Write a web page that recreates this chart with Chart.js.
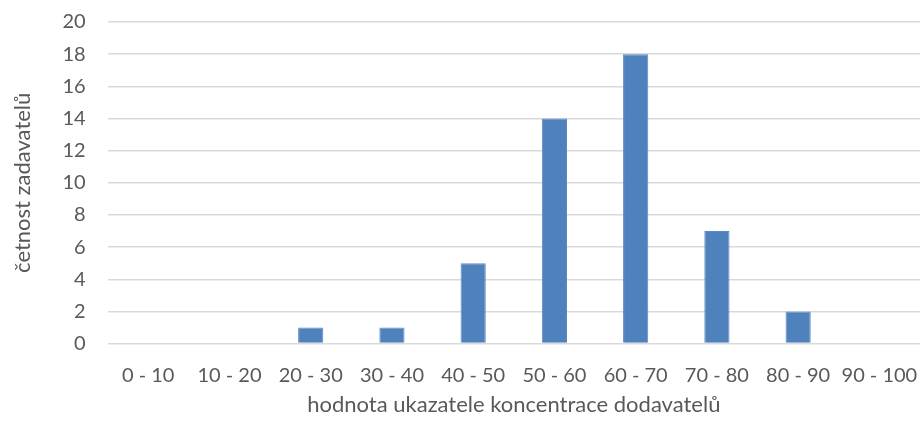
<!DOCTYPE html>
<html>
<head>
<meta charset="utf-8">
<script src="https://cdn.jsdelivr.net/npm/chart.js@4"></script>
<style>
  html, body { margin: 0; padding: 0; background: #fff; }
  #wrap { width: 920px; height: 437px; }
</style>
</head>
<body>
<div id="wrap"><canvas id="myChart" width="920" height="437"></canvas></div>
<script>
// categories and values
const categories = ["0 - 10", "10 - 20", "20 - 30", "30 - 40", "40 - 50", "50 - 60", "60 - 70", "70 - 80", "80 - 90", "90 - 100"];
const counts = [0, 0, 1, 1, 5, 14, 18, 7, 2, 0];
const yTicks = [0, 2, 4, 6, 8, 10, 12, 14, 16, 18, 20];

const ctx = document.getElementById("myChart").getContext("2d");
const textColor = "#595959";
const fontFamily = "Lato, 'Open Sans', sans-serif";

new Chart(ctx, {
    type: "bar",
    data: {
        labels: categories,
        datasets: [
            {
                label: "četnost",
                data: counts,
                backgroundColor: "#4f81bd",
                borderColor: "#5a8ac6",
                borderWidth: 1,
                barPercentage: 0.62,
                categoryPercentage: 0.5
            }
        ]
    },
    options: {
        responsive: false,
        animation: false,
        layout: { padding: { top: 22, right: 0, left: 10, bottom: 19 } },
        plugins: {
            legend: { display: false },
            tooltip: { enabled: false }
        },
        scales: {
            x: {
                // invisible tick marks just to push the labels down
                grid: { display: true, drawOnChartArea: false, color: "rgba(0,0,0,0)", drawTicks: true, tickLength: 20 },
                border: { display: false },
                ticks: {
                    color: textColor,
                    font: { family: fontFamily, size: 20 },
                    maxRotation: 0,
                    autoSkip: false,
                    padding: 0
                },
                title: {
                    display: true,
                    text: "hodnota ukazatele koncentrace dodavatelů",
                    color: textColor,
                    font: { family: fontFamily, size: 22 },
                    padding: { top: 4, bottom: 0 }
                }
            },
            y: {
                min: 0,
                max: 20,
                afterBuildTicks: (axis) => { axis.ticks = yTicks.map(v => ({ value: v })); },
                grid: { color: "#d9d9d9", lineWidth: 1.5, drawTicks: true, tickLength: 22, tickColor: "rgba(0,0,0,0)" },
                border: { display: false },
                ticks: {
                    color: textColor,
                    font: { family: fontFamily, size: 20 },
                    padding: 0
                },
                title: {
                    display: true,
                    text: "četnost zadavatelů",
                    color: textColor,
                    font: { family: fontFamily, size: 22 },
                    padding: { top: 0, bottom: 26 }
                }
            }
        }
    }
});
</script>
</body>
</html>
